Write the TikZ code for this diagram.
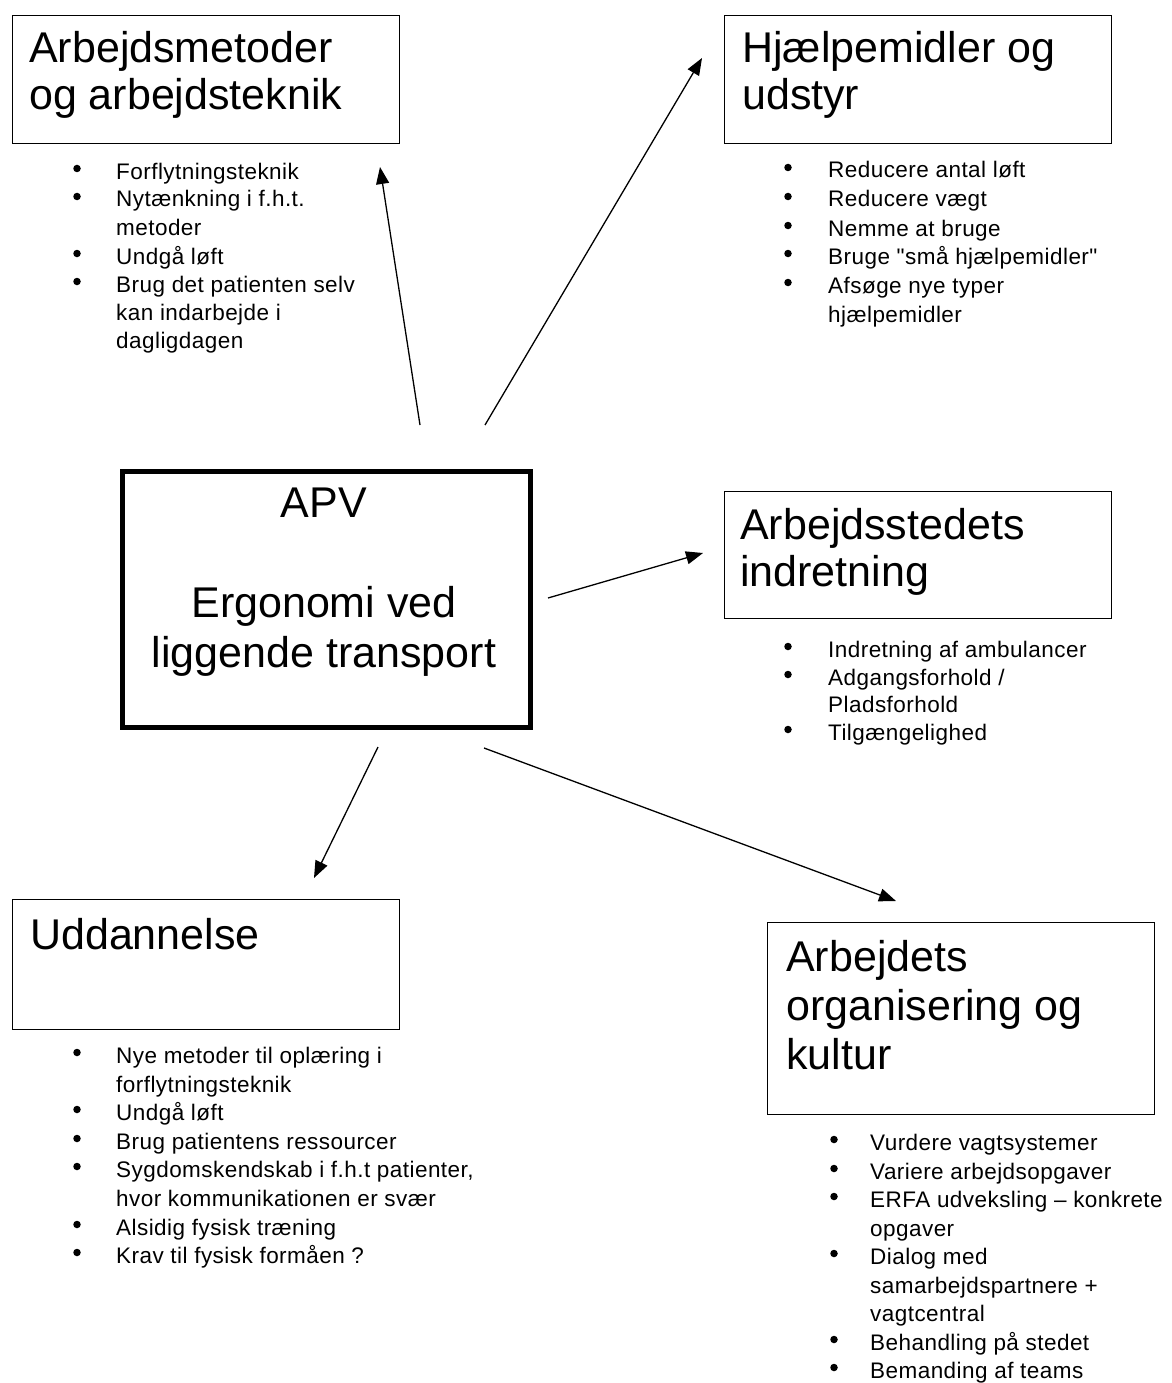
\documentclass[tikz,border=0pt]{standalone}
\usepackage{fontspec}
\setmainfont{Liberation Sans}
\newfontfamily\listfont[LetterSpace=2]{Liberation Sans}
\usetikzlibrary{arrows.meta}
\newcommand\li[5]{\node[dot] (#1d) at (#2,#4-10.5) {}; \node[item] (#1) at (#3,#4) {#5};}
\newcommand\lc[4]{\node[item] (#1) at (#2,#3) {#4};}
\begin{document}
\begin{tikzpicture}[x=1pt,y=-1pt,
  box/.style={draw, line width=1.3pt, inner sep=0pt, anchor=north west},
  title/.style={anchor=base west, inner sep=0pt, font=\fontsize{43}{47}\selectfont},
  ctitle/.style={anchor=base, inner sep=0pt, font=\fontsize{43}{47}\selectfont},
  item/.style={anchor=base west, inner sep=0pt, font=\listfont\fontsize{22.5}{28}\selectfont},
  dot/.style={circle, fill, inner sep=0pt, minimum size=7.5pt},
  arr/.style={-{Triangle[length=17pt,width=13pt]}, line width=1.3pt}]
\useasboundingbox (0,0) rectangle (1171,1383);

% boxes
\node[box, minimum width=387pt, minimum height=128pt] (b1) at (12,15) {};
\node[box, minimum width=387pt, minimum height=128pt] (b2) at (724,15) {};
\node[box, minimum width=387pt, minimum height=127pt] (b3) at (724,491) {};
\node[box, minimum width=387pt, minimum height=130pt] (b4) at (12,899) {};
\node[box, minimum width=387pt, minimum height=192pt] (b5) at (767,922) {};
\node[draw, line width=4.5pt, inner sep=0pt, anchor=north west, minimum width=408pt, minimum height=256pt] (apv) at (120,469) {};

% titles
\node[title] (t1a) at (29,63) {Arbejdsmetoder};
\node[title] (t1b) at (29,110) {og arbejdsteknik};
\node[title] (t2a) at (742,63) {Hjælpemidler og};
\node[title] (t2b) at (742,110) {udstyr};
\node[title] (t3a) at (740,539) {Arbejdsstedets};
\node[title] (t3b) at (740,586) {indretning};
\node[title] (t4a) at (30,949) {Uddannelse};
\node[title] (t5a) at (786,971) {Arbejdets};
\node[title] (t5b) at (786,1020) {organisering og};
\node[title] (t5c) at (786,1069) {kultur};
\node[ctitle] (c1) at (324,517) {APV};
\node[ctitle] (c2) at (324,617) {Ergonomi ved};
\node[ctitle] (c3) at (324,667) {liggende transport};

% list 1
\li{l1a}{77}{116}{179}{Forflytningsteknik}
\li{l1b}{77}{116}{207}{Nytænkning i f.h.t.}
\lc{l1c}{116}{235}{metoder}
\li{l1d}{77}{116}{264}{Undgå løft}
\li{l1e}{77}{116}{292}{Brug det patienten selv}
\lc{l1f}{116}{320}{kan indarbejde i}
\lc{l1g}{116}{348}{dagligdagen}

% list 2
\li{l2a}{788}{828}{178}{Reducere antal løft}
\li{l2b}{788}{828}{207}{Reducere vægt}
\li{l2c}{788}{828}{236}{Nemme at bruge}
\li{l2d}{788}{828}{264}{Bruge "små hjælpemidler"}
\li{l2e}{788}{828}{293}{Afsøge nye typer}
\lc{l2f}{828}{322}{hjælpemidler}

% list 3
\li{l3a}{788}{828}{657}{Indretning af ambulancer}
\li{l3b}{788}{828}{685}{Adgangsforhold /}
\lc{l3c}{828}{712}{Pladsforhold}
\li{l3d}{788}{828}{740}{Tilgængelighed}

% list 4
\li{l4a}{77}{116}{1063}{Nye metoder til oplæring i}
\lc{l4b}{116}{1092}{forflytningsteknik}
\li{l4c}{77}{116}{1120}{Undgå løft}
\li{l4d}{77}{116}{1149}{Brug patientens ressourcer}
\li{l4e}{77}{116}{1177}{Sygdomskendskab i f.h.t patienter,}
\lc{l4f}{116}{1206}{hvor kommunikationen er svær}
\li{l4g}{77}{116}{1235}{Alsidig fysisk træning}
\li{l4h}{77}{116}{1263}{Krav til fysisk formåen ?}

% list 5
\li{l5a}{834}{870}{1150}{Vurdere vagtsystemer}
\li{l5b}{834}{870}{1179}{Variere arbejdsopgaver}
\li{l5c}{834}{870}{1207}{ERFA udveksling – konkrete}
\lc{l5d}{870}{1236}{opgaver}
\li{l5e}{834}{870}{1264}{Dialog med}
\lc{l5f}{870}{1293}{samarbejdspartnere +}
\lc{l5g}{870}{1321}{vagtcentral}
\li{l5h}{834}{870}{1350}{Behandling på stedet}
\li{l5i}{834}{870}{1378}{Bemanding af teams}

% arrows
\coordinate (a1s) at (420,425); \coordinate (a1e) at (380,167);
\coordinate (a2s) at (485,425); \coordinate (a2e) at (702,58);
\coordinate (a3s) at (548,598); \coordinate (a3e) at (703,553);
\coordinate (a4s) at (378,747); \coordinate (a4e) at (314,878);
\coordinate (a5s) at (484,748); \coordinate (a5e) at (896,901);
\draw[arr] (a1s) -- (a1e);
\draw[arr] (a2s) -- (a2e);
\draw[arr] (a3s) -- (a3e);
\draw[arr] (a4s) -- (a4e);
\draw[arr] (a5s) -- (a5e);
\end{tikzpicture}
\end{document}
